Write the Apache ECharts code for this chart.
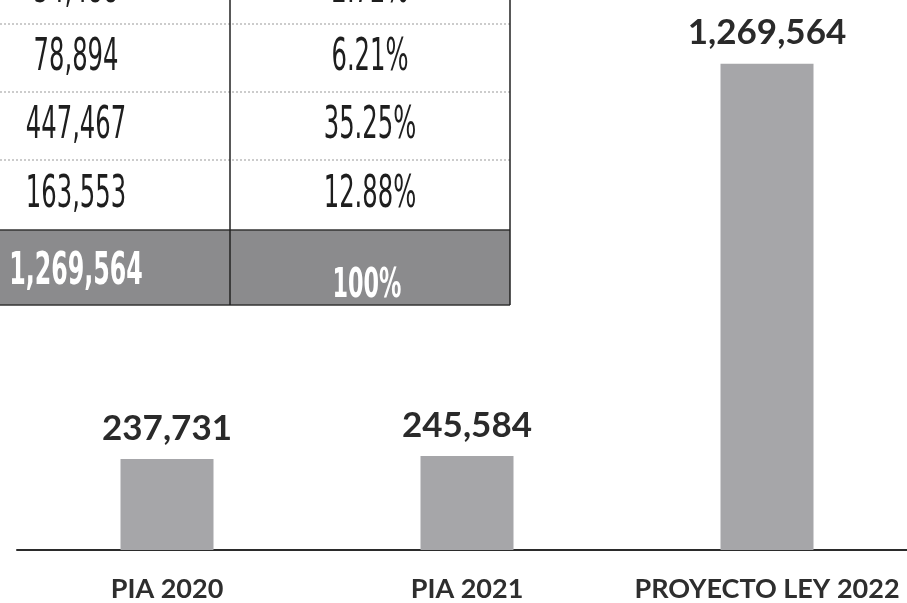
<!DOCTYPE html>
<html>
<head>
<meta charset="utf-8">
<title>PIA 2020 - Proyecto Ley 2022</title>
<script src="https://cdn.jsdelivr.net/npm/echarts@6/dist/echarts.min.js"></script>
<style>
  html, body { margin: 0; padding: 0; background: #fff; }
  #chart { width: 907px; height: 603px; }
</style>
</head>
<body>
<div id="chart"></div>
<script>
// bar chart data
const categories = ["PIA 2020", "PIA 2021", "PROYECTO LEY 2022"];
const amounts = [237731, 245584, 1269564];

// table rows (top of table is cut off in the source)
const tableAmounts = ["34,488", "78,894", "447,467", "163,553"];
const tablePercents = ["2.72%", "6.21%", "35.25%", "12.88%"];
const totalAmount = "1,269,564";
const totalPercent = "100%";

const chart = echarts.init(document.getElementById("chart"));

const tableFont = '"DejaVu Sans Condensed", "Liberation Sans Narrow", sans-serif';
const rowY = [-10, 58, 126, 195];
const sepY = [24, 92, 160];
const colA = 76;
const colB = 370;

function tableGraphics() {
  const els = [];
  // gray total row
  els.push({
    type: "rect",
    shape: { x: 0, y: 230, width: 510, height: 75 },
    style: { fill: "#8b8b8d" },
  });
  sepY.forEach((y) => {
    els.push({
      type: "line",
      shape: { x1: 0, y1: y, x2: 510, y2: y },
      style: { stroke: "#9a9a9a", lineWidth: 1, lineDash: [2, 2] },
    });
  });
  els.push({
    type: "line",
    shape: { x1: 0, y1: 230, x2: 510, y2: 230 },
    style: { stroke: "#333", lineWidth: 1.5 },
  });
  els.push({
    type: "line",
    shape: { x1: 0, y1: 305, x2: 510, y2: 305 },
    style: { stroke: "#333", lineWidth: 1.5 },
  });
  els.push({
    type: "line",
    shape: { x1: 230, y1: 0, x2: 230, y2: 305 },
    style: { stroke: "#222", lineWidth: 1.5 },
  });
  els.push({
    type: "line",
    shape: { x1: 510, y1: 0, x2: 510, y2: 305 },
    style: { stroke: "#222", lineWidth: 1.5 },
  });
  tableAmounts.forEach((t, i) => {
    els.push({
      type: "text",
      x: colA,
      y: rowY[i],
      scaleX: 0.6,
      style: {
        text: t,
        font: "45px " + tableFont,
        fill: "#1e1e1e",
        textAlign: "center",
        textVerticalAlign: "middle",
      },
    });
    els.push({
      type: "text",
      x: colB,
      y: rowY[i],
      scaleX: 0.6,
      style: {
        text: tablePercents[i],
        font: "45px " + tableFont,
        fill: "#1e1e1e",
        textAlign: "center",
        textVerticalAlign: "middle",
      },
    });
  });
  els.push({
    type: "text",
    x: colA,
    y: 273,
    scaleX: 0.6,
    style: {
      text: totalAmount,
      font: "bold 44px " + tableFont,
      fill: "#fff",
      textAlign: "center",
      textVerticalAlign: "middle",
    },
  });
  els.push({
    type: "text",
    x: colB - 3,
    y: 287,
    scaleX: 0.62,
    style: {
      text: totalPercent,
      font: "bold 40px " + tableFont,
      fill: "#fff",
      textAlign: "center",
      textVerticalAlign: "middle",
    },
  });
  return els;
}

const option = {
  backgroundColor: "#fff",
  animation: false,
  grid: { left: 17, right: -10, top: 52, bottom: 53, outerBoundsMode: "none" },
  xAxis: {
    type: "category",
    data: categories,
    axisLine: { show: true, lineStyle: { color: "#2b2b2b", width: 2 } },
    axisTick: { show: false },
    axisLabel: {
      interval: 0,
      margin: 26,
      color: "#2e2e2e",
      fontFamily: "Lato",
      fontWeight: "bold",
      fontSize: 27,
    },
  },
  yAxis: {
    type: "value",
    min: 0,
    max: 1300000,
    show: false,
    splitLine: { show: false },
  },
  series: [
    {
      type: "bar",
      data: amounts,
      barWidth: 93,
      itemStyle: { color: "#a6a6a9" },
      label: {
        show: true,
        position: "top",
        distance: 13,
        color: "#2a2a2a",
        fontFamily: "Lato",
        fontWeight: "bold",
        fontSize: 35,
        formatter: (p) => p.value.toLocaleString("en-US"),
      },
    },
  ],
  graphic: tableGraphics(),
};

chart.setOption(option);
</script>
</body>
</html>
